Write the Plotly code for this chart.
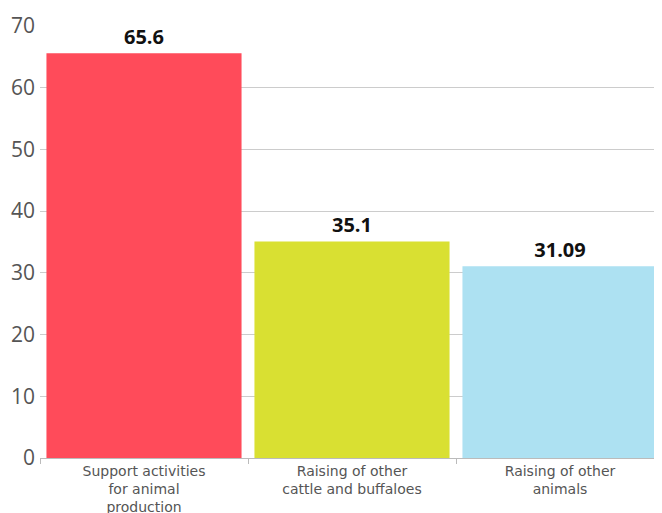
import plotly.graph_objects as go

categories = ["Support activities<br>for animal<br>production",
              "Raising of other<br>cattle and buffaloes",
              "Raising of other<br>animals"]
values = [65.6, 35.1, 31.09]
labels = ["65.6", "35.1", "31.09"]
colors = ["#FF4B5A", "#D9E032", "#ADE1F2"]

# page body has 8px default margin; compensate so the plot sits where the reference is
fig = go.Figure(go.Bar(
    x=categories, y=values, marker_color=colors, marker_line_width=0,
    text=labels, textposition="outside", cliponaxis=False,
    textfont=dict(family="Open Sans", size=20, color="#111111", weight="bold"),
))
fig.update_layout(
    width=656, height=505,
    margin=dict(l=32, r=0, t=18, b=55),
    plot_bgcolor="white", paper_bgcolor="white",
    bargap=0.062, showlegend=False,
    font=dict(family="Open Sans", color="#555555"),
)
fig.update_yaxes(range=[0, 70], dtick=10, showgrid=True, gridcolor="#cccccc",
                 zeroline=False, ticks="", ticklabelstandoff=4,
                 tickfont=dict(size=21, color="#555555"), showline=False,
                 automargin=False)
fig.update_xaxes(showline=True, linecolor="#bbbbbb", ticks="outside",
                 tickson="boundaries", ticklen=5, tickcolor="#bbbbbb",
                 tickfont=dict(family="DejaVu Sans", size=14, color="#555555"),
                 automargin=False)
fig.write_html("out.html")
